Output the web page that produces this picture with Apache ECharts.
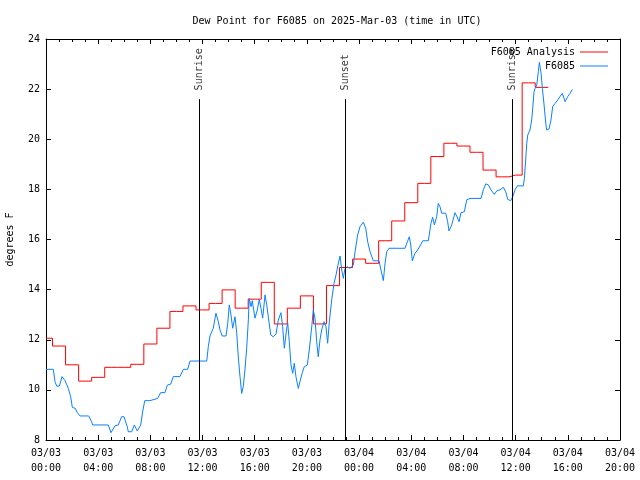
<!DOCTYPE html>
<html>
<head>
<meta charset="utf-8">
<script src="https://cdn.jsdelivr.net/npm/echarts@6/dist/echarts.min.js"></script>
<style>html,body{margin:0;padding:0;background:#fff}#c{width:640px;height:480px}</style>
</head>
<body>
<div id="c"></div>
<script>
// Hours since 2025-03-03 00:00 UTC
const tickLabels = ['03/03\n00:00','03/03\n04:00','03/03\n08:00','03/03\n12:00','03/03\n16:00','03/03\n20:00',
  '03/04\n00:00','03/04\n04:00','03/04\n08:00','03/04\n12:00','03/04\n16:00','03/04\n20:00'];
const yTicks = [8,10,12,14,16,18,20,22,24];

const analysisHours = [0,1,2,3,4,5,6,7,8,9,10,11,12,13,14,15,16,17,18,19,20,21,22,23,24,25,26,27,28,29,30,31,32,33,34,35,36,37,38];
const analysisValues = [12.06,11.75,11.0,10.35,10.5,10.9,10.9,11.02,11.83,12.46,13.13,13.35,13.19,13.45,13.99,13.26,13.62,14.29,12.63,13.26,13.75,12.63,14.16,14.88,15.22,15.05,15.95,16.74,17.47,18.24,19.31,19.84,19.73,19.48,18.77,18.5,18.57,22.25,22.07];

const obsHours = [0,0.56,0.69,0.82,1.02,1.23,1.46,1.71,1.89,2.02,2.25,2.40,2.61,3.27,3.50,3.58,4.78,4.98,5.29,5.54,5.80,5.98,6.23,6.31,6.57,6.77,7.00,7.26,7.41,7.57,7.97,8.56,8.79,9.12,9.30,9.56,9.76,10.27,10.53,10.86,11.04,12.32,12.44,12.57,12.82,13.03,13.21,13.34,13.51,13.80,13.93,14.05,14.18,14.31,14.49,14.62,14.74,14.87,15.00,15.12,15.25,15.39,15.51,15.58,15.72,15.81,16.02,16.20,16.35,16.48,16.61,16.79,16.92,17.04,17.23,17.42,17.63,17.81,18.01,18.14,18.27,18.45,18.53,18.65,18.78,18.91,19.03,19.16,19.34,19.47,19.65,19.80,20.03,20.18,20.37,20.49,20.62,20.75,20.87,21.00,21.13,21.31,21.46,21.59,21.72,21.90,22.08,22.23,22.38,22.54,22.67,22.79,22.92,23.10,23.30,23.56,23.69,23.89,24.07,24.32,24.51,24.66,24.84,25.09,25.53,25.68,25.86,25.99,26.12,26.29,27.52,27.70,27.85,27.96,28.08,28.29,28.49,28.67,28.88,29.31,29.51,29.64,29.77,29.95,30.07,30.20,30.33,30.64,30.79,30.89,31.10,31.35,31.48,31.66,31.81,32.07,32.25,32.50,33.35,33.52,33.71,33.91,34.11,34.37,34.55,34.80,35.06,35.24,35.39,35.62,35.78,35.95,36.13,36.59,36.67,36.77,36.85,36.93,37.10,37.23,37.31,37.41,37.49,37.62,37.74,37.82,37.95,38.05,38.18,38.31,38.38,38.56,38.71,38.84,39.02,39.23,39.40,39.58,39.79,39.99,40.17,40.35];
const obsValues = [10.82,10.82,10.33,10.15,10.15,10.53,10.37,10.06,9.73,9.30,9.26,9.09,8.96,8.96,8.73,8.60,8.60,8.29,8.57,8.60,8.93,8.93,8.53,8.33,8.33,8.60,8.36,8.60,9.13,9.57,9.57,9.66,9.89,9.89,10.19,10.23,10.53,10.53,10.82,10.82,11.15,11.15,11.72,12.15,12.46,13.06,12.72,12.39,12.15,12.15,12.66,13.39,12.99,12.46,12.92,12.26,11.32,10.53,9.86,10.13,10.79,11.72,12.79,13.65,13.32,13.56,12.86,13.19,13.61,13.25,12.86,13.79,13.39,12.92,12.19,12.12,12.23,12.79,13.08,12.52,11.66,12.46,12.66,11.92,10.99,10.66,11.06,10.53,10.06,10.33,10.69,10.93,10.99,11.59,12.52,13.19,12.86,11.92,11.32,11.99,12.39,12.72,12.52,11.86,12.72,13.59,14.25,14.58,14.98,15.34,14.78,14.45,14.85,14.91,14.85,14.98,15.51,16.18,16.51,16.69,16.45,15.91,15.51,15.15,15.15,14.78,14.36,15.05,15.51,15.65,15.65,15.91,16.11,15.78,15.15,15.45,15.58,15.74,15.95,15.95,16.65,16.89,16.58,16.91,17.44,17.31,17.05,17.05,16.71,16.34,16.58,17.07,16.94,16.71,17.07,17.11,17.58,17.64,17.64,17.98,18.22,18.18,17.98,17.80,17.94,17.98,18.08,17.91,17.60,17.55,17.71,17.98,18.14,18.14,18.44,19.17,19.84,20.17,20.37,20.77,21.24,21.90,22.03,22.17,22.70,23.07,22.63,22.03,21.37,20.64,20.37,20.41,20.77,21.30,21.43,21.57,21.70,21.83,21.50,21.70,21.83,21.99];

const eventHours = [11.75, 22.97, 35.76];
const eventNames = ['Sunrise', 'Sunset', 'Sunrise'];
const eventLineTop = 21.6;
const eventLabelBase = 21.95;

const FONT = '"DejaVu Sans Mono", "Liberation Mono", monospace';

const analysisData = analysisHours.map((h, i) => [h, analysisValues[i]]);
// histeps: last step extends half an hour past its point
analysisData.push([analysisHours[analysisHours.length - 1] + 0.5, analysisValues[analysisValues.length - 1]]);
const obsData = obsHours.map((h, i) => [h, obsValues[i]]);

const xCommon = {
  type: 'value', min: 0, max: 44, interval: 4,
  axisLine: {show: true, onZero: false, lineStyle: {color: '#000', width: 1}},
  axisTick: {show: true, inside: true, length: 5, lineStyle: {color: '#000'}},
  minorTick: {show: true, splitNumber: 4, length: 3, lineStyle: {color: '#000'}},
  splitLine: {show: false}
};
const yCommon = {
  type: 'value', min: 8, max: 24, interval: 2,
  axisLine: {show: true, onZero: false, lineStyle: {color: '#000', width: 1}},
  axisTick: {show: true, inside: true, length: 5, lineStyle: {color: '#000'}},
  splitLine: {show: false}
};

const chart = echarts.init(document.getElementById('c'), null, {renderer: 'canvas'});
chart.setOption({
  animation: false,
  backgroundColor: '#fff',
  textStyle: {fontFamily: FONT},
  title: {
    text: 'Dew Point for F6085 on 2025-Mar-03 (time in UTC)',
    left: 332, top: 11, textAlign: 'center',
    textStyle: {fontFamily: FONT, fontSize: 10, fontWeight: 'normal', color: '#000'}
  },
  legend: {
    orient: 'vertical', right: 27, top: 42, align: 'right',
    itemWidth: 28, itemHeight: 1, itemGap: 4, icon: 'rect',
    data: ['F6085 Analysis', 'F6085'],
    textStyle: {fontFamily: FONT, fontSize: 10, color: '#000'}
  },
  grid: {left: 46, right: 20, top: 39, bottom: 40, containLabel: false, outerBoundsMode: 'none'},
  xAxis: [
    Object.assign({}, xCommon, {
      position: 'bottom',
      axisLabel: {
        show: true, margin: 6, lineHeight: 15, color: '#000', fontFamily: FONT, fontSize: 10,
        showMinLabel: true, showMaxLabel: true,
        formatter: v => tickLabels[Math.round(v / 4)] || ''
      }
    }),
    Object.assign({}, xCommon, {position: 'top', axisLabel: {show: false}})
  ],
  yAxis: [
    Object.assign({}, yCommon, {
      position: 'left',
      name: 'degrees F', nameLocation: 'middle', nameGap: 31,
      nameTextStyle: {fontFamily: FONT, fontSize: 10, color: '#000'},
      axisLabel: {show: true, margin: 6, color: '#000', fontFamily: FONT, fontSize: 10,
        formatter: v => yTicks.indexOf(v) >= 0 ? String(v) : ''}
    }),
    Object.assign({}, yCommon, {position: 'right', axisLabel: {show: false}})
  ],
  series: [
    {
      name: 'F6085 Analysis', type: 'line', step: 'middle', data: analysisData,
      showSymbol: false, symbol: 'none',
      lineStyle: {color: '#ff0000', width: 1}, itemStyle: {color: '#ff0000'}, z: 3
    },
    {
      name: 'F6085', type: 'line', data: obsData,
      showSymbol: false, symbol: 'none',
      lineStyle: {color: '#0a80ff', width: 1}, itemStyle: {color: '#0a80ff'}, z: 4
    },
    {
      name: 'events', type: 'scatter', symbolSize: 0, silent: true,
      data: eventHours.map((h, i) => [h, eventLabelBase, eventNames[i]]),
      label: {
        show: true, position: 'inside', rotate: 90, align: 'left', verticalAlign: 'middle',
        formatter: p => p.data[2], color: '#000', fontFamily: FONT, fontSize: 10
      },
      markLine: {
        silent: true, symbol: 'none', animation: false,
        label: {show: false},
        lineStyle: {color: '#000', width: 1, type: 'solid'},
        data: eventHours.map(h => [{coord: [h, 8]}, {coord: [h, eventLineTop]}])
      },
      z: 2
    }
  ]
});
</script>
</body>
</html>
